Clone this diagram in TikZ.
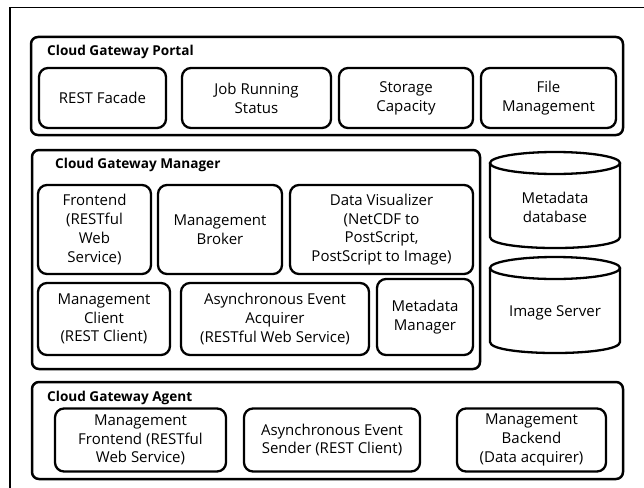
\documentclass[tikz,border=0pt]{standalone}
\usepackage{fontspec}
\setmainfont{Open Sans}
\begin{document}
\begin{tikzpicture}[x=1pt,y=-1pt,
  comp/.style={draw, line width=2.3pt, rounded corners=9pt, align=center, inner sep=0pt,
    font=\fontsize{15}{18.8}\selectfont},
  group/.style={draw, line width=2.5pt, rounded corners=7pt, inner sep=0pt},
  gtitle/.style={anchor=base west, inner sep=0pt, font=\fontsize{13.6}{15}\selectfont\bfseries},
  cyltext/.style={align=center, inner sep=0pt, font=\fontsize{15}{18.8}\selectfont}]
\useasboundingbox (0,0) rectangle (644,487);
% outer frame
\coordinate (fb) at (10,490);
\coordinate (ftl) at (10,7.5);
\coordinate (fr) at (650,7.5);
\draw[line width=2.6pt] (fb) -- (ftl);
\draw[line width=1.4pt] (ftl) -- (fr);
% Portal
\node[group, minimum width=592pt, minimum height=98pt] (portal) at (327,86) {};
\node[gtitle] (portalt) at (47,56) {Cloud Gateway Portal};
\node[comp, minimum width=127pt, minimum height=60pt] (rest) at (102.5,98) {REST Facade};
\node[comp, minimum width=149pt, minimum height=60pt] (job) at (256.5,98) {Job Running\\Status};
\node[comp, minimum width=134pt, minimum height=60pt] (stor) at (406,98) {Storage\\Capacity};
\node[comp, minimum width=135pt, minimum height=60pt] (file) at (548.5,98) {File\\Management};
% Manager
\node[group, minimum width=448pt, minimum height=219pt] (mgr) at (256,259.5) {};
\node[gtitle] (mgrt) at (55,168.5) {Cloud Gateway Manager};
\node[comp, minimum width=113pt, minimum height=89pt] (front) at (94.5,229.5) {Frontend\\(RESTful\\Web\\Service)};
\node[comp, minimum width=124pt, minimum height=89pt] (broker) at (220,229.5) {Management\\Broker};
\node[comp, minimum width=183pt, minimum height=89pt] (vis) at (381.5,229.5) {Data Visualizer\\(NetCDF to\\PostScript,\\PostScript to Image)};
\node[comp, minimum width=132pt, minimum height=72pt] (client) at (104,319) {Management\\Client\\(REST Client)};
\node[comp, minimum width=188pt, minimum height=72pt] (acq) at (275,319) {Asynchronous Event\\Acquirer\\(RESTful Web Service)};
\node[comp, minimum width=96pt, minimum height=76pt] (metamgr) at (425,317) {Metadata\\Manager};
% Cylinders
\foreach \t/\b in {163/237, 268/342}{
  \draw[line width=2.3pt] (555,\t) ellipse [x radius=65pt, y radius=11pt];
  \draw[line width=2.3pt] (490,\t) -- (490,\b) .. controls (490,\b+14.7) and (620,\b+14.7) .. (620,\b) -- (620,\t);
}
\node[cyltext] (metadb) at (555,207) {Metadata\\database};
\node[cyltext] (imgsrv) at (555,313) {Image Server};
% Agent
\node[group, minimum width=591pt, minimum height=97pt] (agent) at (327.5,430.5) {};
\node[gtitle] (agentt) at (47,401.5) {Cloud Gateway Agent};
\node[comp, minimum width=171pt, minimum height=63pt] (mfront) at (140.5,440) {Management\\Frontend (RESTful\\Web Service)};
\node[comp, minimum width=176pt, minimum height=63pt] (sender) at (332,440) {Asynchronous Event\\Sender (REST Client)};
\node[comp, minimum width=149pt, minimum height=63pt] (backend) at (531.5,440) {Management\\Backend\\(Data acquirer)};
\end{tikzpicture}
\end{document}
